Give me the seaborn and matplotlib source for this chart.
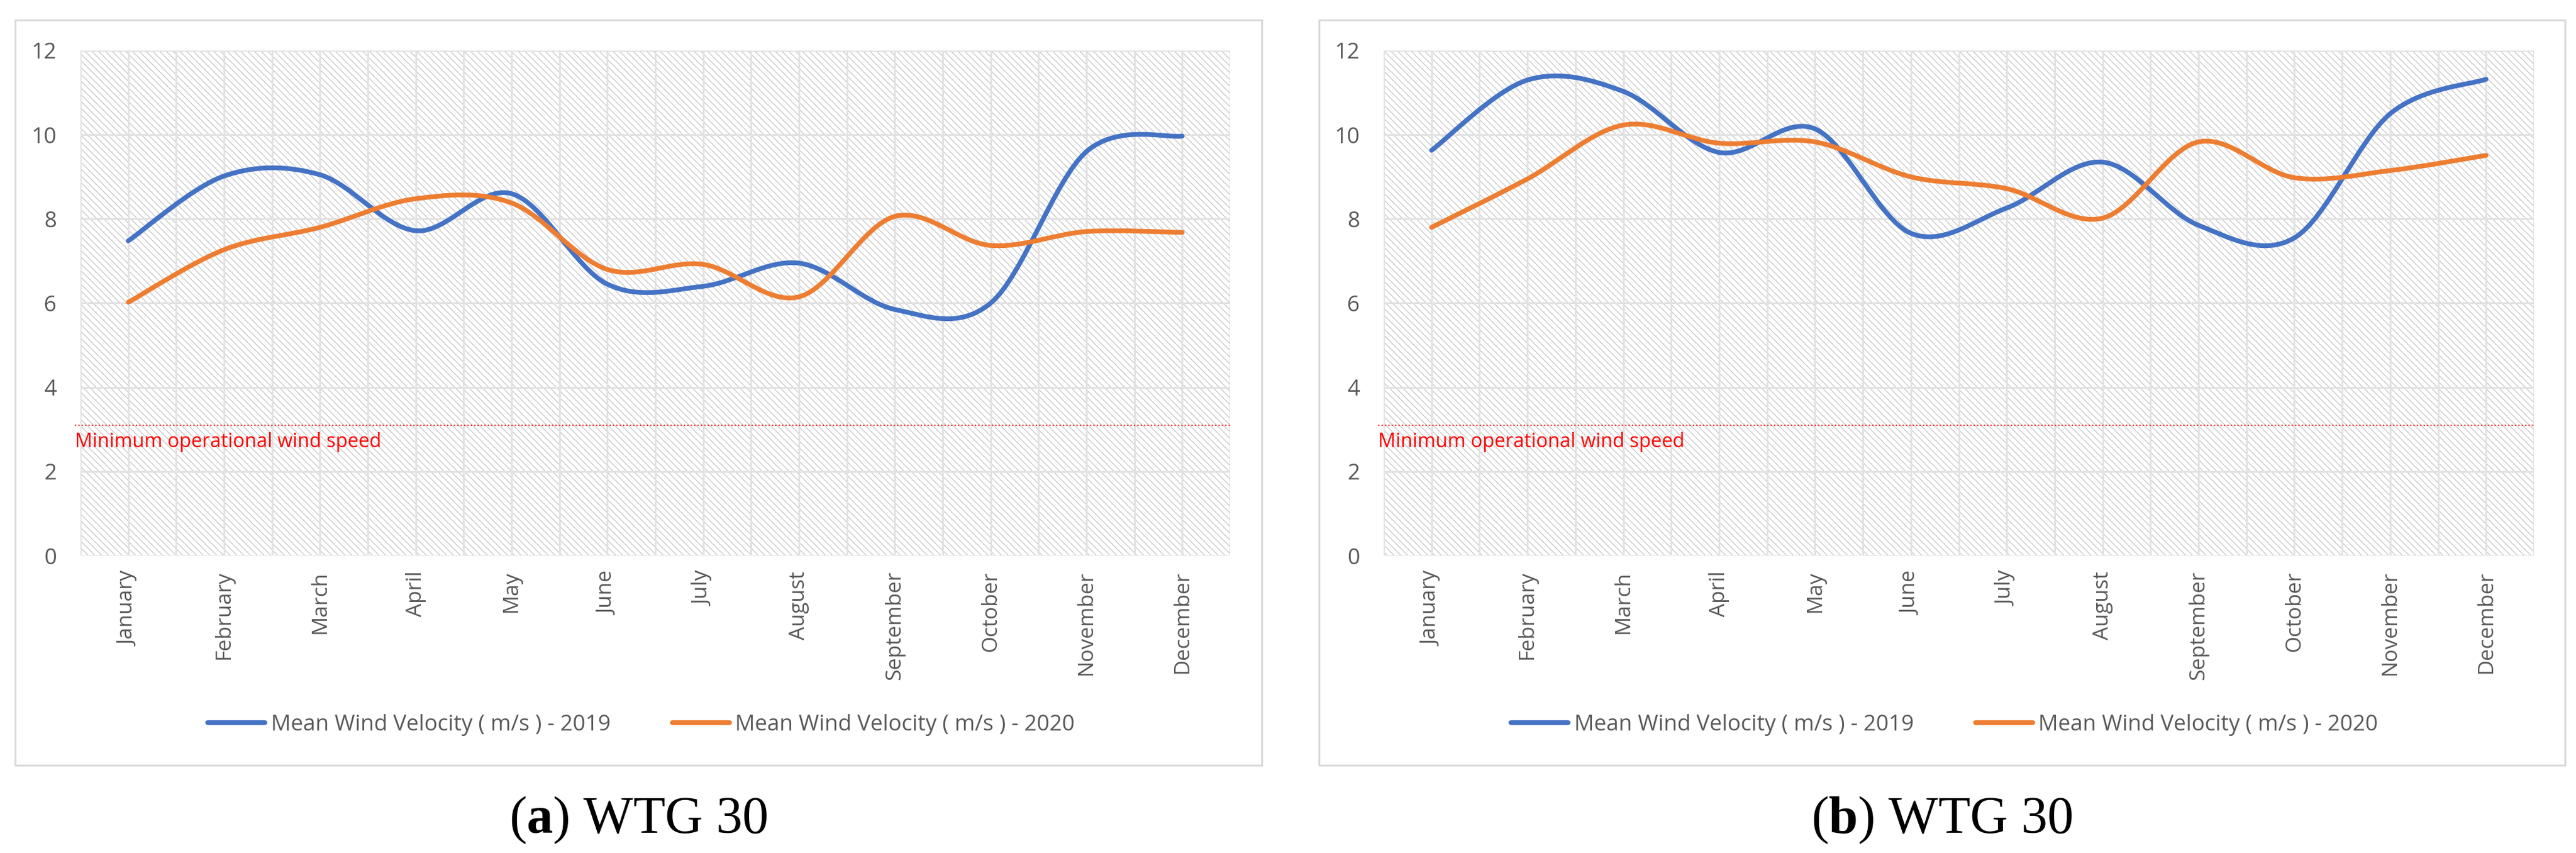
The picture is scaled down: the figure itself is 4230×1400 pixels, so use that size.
import numpy as np
import pandas as pd
import seaborn as sns
import matplotlib.pyplot as plt
from matplotlib.path import Path
from matplotlib.patches import PathPatch, Rectangle
from matplotlib.lines import Line2D
from matplotlib.ticker import MultipleLocator

months = ["January", "February", "March", "April", "May", "June", "July",
          "August", "September", "October", "November", "December"]

# panel (a)
wtg_a_2019 = [7.48, 9.02, 9.05, 7.72, 8.60, 6.45, 6.40, 6.95, 5.85, 6.00, 9.60, 9.97]
wtg_a_2020 = [6.02, 7.27, 7.80, 8.48, 8.38, 6.80, 6.92, 6.15, 8.06, 7.37, 7.70, 7.68]
# panel (b)
wtg_b_2019 = [9.63, 11.30, 11.03, 9.58, 10.14, 7.66, 8.26, 9.35, 7.85, 7.55, 10.50, 11.32]
wtg_b_2020 = [7.80, 8.95, 10.23, 9.80, 9.83, 9.00, 8.72, 8.02, 9.83, 8.98, 9.15, 9.51]

min_speed = 3.1
series_names = ["Mean Wind Velocity ( m/s ) - 2019", "Mean Wind Velocity ( m/s ) - 2020"]
captions = [("a", "WTG 30"), ("b", "WTG 30")]
yticks = [0, 2, 4, 6, 8, 10, 12]

BLUE = "#4472C4"
ORANGE = "#ED7D31"
TXT = "#595959"

sns.set_theme(style="white")
plt.rcParams["font.family"] = ["Open Sans", "DejaVu Sans"]
plt.rcParams["hatch.color"] = "#c9c9c9"
plt.rcParams["hatch.linewidth"] = 1.0
plt.rcParams["mathtext.fontset"] = "custom"
plt.rcParams["mathtext.rm"] = "Liberation Serif"
plt.rcParams["mathtext.bf"] = "Liberation Serif:bold"


def smooth_path(xs, ys):
    # excel-like smoothed line: bezier segments with catmull-rom control points
    pts = np.column_stack([xs, ys]).astype(float)
    n = len(pts)
    verts = [pts[0]]
    codes = [Path.MOVETO]
    for i in range(n - 1):
        p0 = pts[i - 1] if i > 0 else pts[i]
        p1 = pts[i]
        p2 = pts[i + 1]
        p3 = pts[i + 2] if i + 2 < n else pts[i + 1]
        c1 = p1 + (p2 - p0) / 6.0
        c2 = p2 - (p3 - p1) / 6.0
        verts += [c1, c2, p2]
        codes += [Path.CURVE4] * 3
    return Path(verts, codes)


fig = plt.figure(figsize=(42.3, 14), dpi=100)
fig.patch.set_facecolor("white")

axes_pos = [[132 / 4230, 488 / 1400, 1888 / 4230, 829 / 1400],
            [2272 / 4230, 488 / 1400, 1889 / 4230, 829 / 1400]]
frames = [(25, 2072), (2166, 4212)]
panels = [(wtg_a_2019, wtg_a_2020), (wtg_b_2019, wtg_b_2020)]

for k, (s19, s20) in enumerate(panels):
    # outer chart frame
    fx0, fx1 = frames[k]
    fig.patches.append(Rectangle((fx0 / 4230, 144 / 1400), (fx1 - fx0) / 4230, 1223 / 1400,
                                 transform=fig.transFigure, facecolor="white",
                                 edgecolor="#d9d9d9", linewidth=2.2, zorder=0))

    ax = fig.add_axes(axes_pos[k])
    ax.set_zorder(1)
    df = pd.DataFrame({"idx": list(range(12)) * 2,
                       "value": list(s19) + list(s20),
                       "series": [series_names[0]] * 12 + [series_names[1]] * 12})
    sns.lineplot(data=df, x="idx", y="value", hue="series",
                 palette=[BLUE, ORANGE], linewidth=0, legend=False, ax=ax)

    # hatched plot area
    ax.add_patch(Rectangle((0, 0), 1, 1, transform=ax.transAxes, facecolor="white",
                           edgecolor="#c9c9c9", linewidth=0, hatch="\\\\\\", zorder=0))

    for vals, col in [(s19, BLUE), (s20, ORANGE)]:
        ax.add_patch(PathPatch(smooth_path(np.arange(12), vals), facecolor="none",
                               edgecolor=col, linewidth=5.6, capstyle="round",
                               joinstyle="round", zorder=4))

    # minimum operational wind speed
    ax.plot([-0.56, 11.5], [min_speed, min_speed], color="#ff3030", linewidth=1.6,
            linestyle=(0, (1, 1.5)), clip_on=False, zorder=3)
    ax.text(-0.56, min_speed - 0.52, "Minimum operational wind speed", color="#ff0000",
            fontsize=23, ha="left", va="baseline", zorder=5)

    ax.set_xlim(-0.5, 11.5)
    ax.set_ylim(0, 12)
    ax.set_xticks(range(12))
    ax.set_xticklabels(months, rotation=90, va="top", ha="center")
    ax.xaxis.set_minor_locator(MultipleLocator(0.5))
    ax.set_yticks(yticks)
    ax.set_yticklabels([str(v) for v in yticks])
    ax.tick_params(axis="x", which="both", length=0, pad=18, labelsize=25, colors=TXT)
    ax.tick_params(axis="y", length=0, pad=28, labelsize=26, colors=TXT)
    ax.grid(True, axis="y", which="major", color="#e2e2e2", linewidth=2.2, zorder=1)
    ax.grid(True, axis="x", which="both", color="#e2e2e2", linewidth=2.2, zorder=1)
    ax.set_axisbelow(False)
    for line in ax.get_xgridlines() + ax.get_ygridlines():
        line.set_zorder(1)
    for sp in ax.spines.values():
        sp.set_visible(False)
    ax.set_xlabel("")
    ax.set_ylabel("")

    handles = [Line2D([], [], color=BLUE, linewidth=5.6, solid_capstyle="round"),
               Line2D([], [], color=ORANGE, linewidth=5.6, solid_capstyle="round")]
    cx = (1053 + 2140 * k) / 4230
    leg = fig.legend(handles, series_names, loc="center", bbox_to_anchor=(cx, 210 / 1400),
                     ncol=2, frameon=False, fontsize=26, handlelength=2.6,
                     handletextpad=0.27, columnspacing=2.8, borderpad=0)
    for t in leg.get_texts():
        t.set_color(TXT)

    letter, label = captions[k]
    fig.text((fx0 + fx1) / 2 / 4230, 33 / 1400, r"($\mathbf{%s}$) %s" % (letter, label),
             ha="center", va="baseline", fontsize=62, color="black",
             family=["Liberation Serif", "DejaVu Serif"])

fig.savefig("out.png", dpi=100, facecolor="white")
